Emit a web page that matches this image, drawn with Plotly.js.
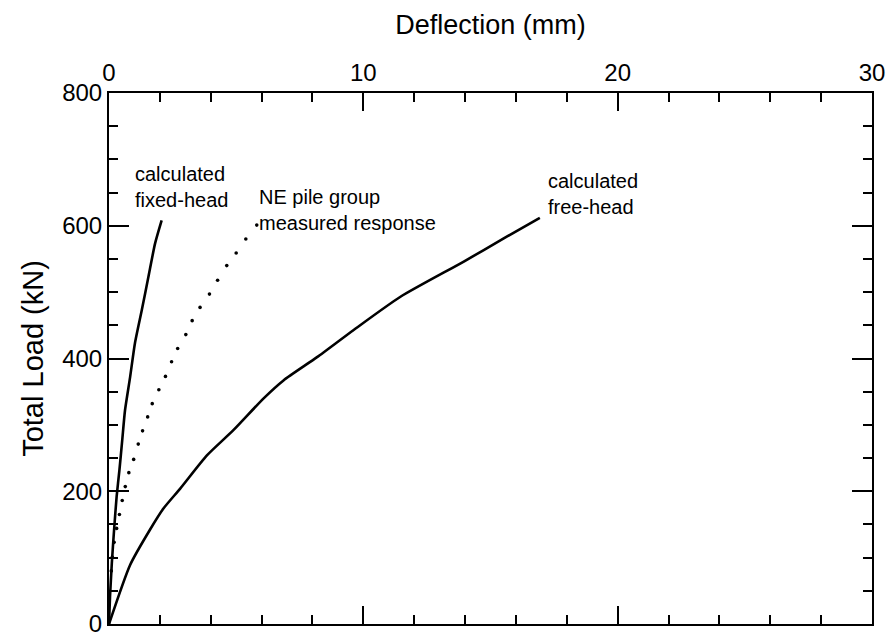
<!DOCTYPE html>
<html>
<head>
<meta charset="utf-8">
<script src="https://cdn.plot.ly/plotly-3.0.1.min.js"></script>
<style>html,body{margin:0;padding:0;background:#fff;}#chart{width:891px;height:642px;}</style>
</head>
<body>
<div id="chart"></div>
<script>
// Calculated fixed-head response (deflection mm, load kN)
const fixedX = [0, 0.04, 0.11, 0.20, 0.30, 0.41, 0.52, 0.63, 0.83, 1.02, 1.29, 1.55, 1.81, 2.07];
const fixedY = [0, 41, 91, 142, 192, 232, 277, 322, 372, 423, 473, 523, 573, 608];

// NE pile group measured response
const measX = [0.09, 0.13, 0.20, 0.30, 0.41, 0.52, 0.64, 0.78, 0.97, 1.15, 1.32, 1.52, 1.70, 1.96, 2.22, 2.46, 2.70, 3.02, 3.27, 3.58, 3.95, 4.27, 4.63, 5.00, 5.38, 5.81];
const measY = [80, 101, 123, 144, 165, 186, 207, 228, 248, 271, 291, 312, 332, 353, 373, 395, 415, 436, 457, 477, 497, 518, 540, 559, 580, 601];

// Calculated free-head response
const freeX = [0, 0.83, 1.61, 2.14, 2.80, 3.85, 4.89, 6.08, 6.86, 8.18, 9.62, 11.46, 13.95, 15.52, 16.94];
const freeY = [0, 89, 142, 174, 204, 254, 292, 340, 367, 402, 443, 493, 546, 581, 612];

const xTicks = [0, 10, 20, 30];
const yTicks = [0, 200, 400, 600, 800];

const labels = [
  {text: 'calculated<br>fixed-head', x: 0.94, y: 659},
  {text: 'NE pile group<br>measured response', x: 5.83, y: 623},
  {text: 'calculated<br>free-head', x: 17.2, y: 648}
];

const FONT = 'Liberation Sans, Arial, Helvetica, sans-serif';

const traces = [
  {x: fixedX, y: fixedY, mode: 'lines', line: {color: '#000', width: 2.6, shape: 'spline', smoothing: 0.6}, hoverinfo: 'skip'},
  {x: measX, y: measY, mode: 'markers', marker: {color: '#000', size: 3.6}, hoverinfo: 'skip'},
  {x: freeX, y: freeY, mode: 'lines', line: {color: '#000', width: 2.6, shape: 'spline', smoothing: 0.6}, hoverinfo: 'skip'}
];

const layout = {
  width: 891, height: 642,
  paper_bgcolor: '#fff', plot_bgcolor: '#fff',
  showlegend: false,
  margin: {l: 109, r: 19, t: 93, b: 18, pad: 0},
  font: {family: FONT, color: '#000'},
  xaxis: {
    range: [0, 30], side: 'top',
    tickmode: 'array', tickvals: xTicks, ticktext: xTicks.map(String),
    ticks: 'inside', ticklen: 18, tickwidth: 2, tickcolor: '#000',
    minor: {dtick: 2, ticks: 'inside', ticklen: 9, tickwidth: 2, tickcolor: '#000', showgrid: false},
    showline: true, linecolor: '#000', linewidth: 2, mirror: 'allticks',
    showgrid: false, zeroline: false,
    tickfont: {size: 24, family: FONT, color: '#000'},
    title: {text: 'Deflection (mm)', font: {size: 27, family: FONT, color: '#000'}, standoff: 17}
  },
  yaxis: {
    range: [0, 800],
    tickmode: 'array', tickvals: yTicks, ticktext: yTicks.map(String),
    ticks: 'inside', ticklen: 20, tickwidth: 2, tickcolor: '#000',
    minor: {dtick: 50, ticks: 'inside', ticklen: 9, tickwidth: 2, tickcolor: '#000', showgrid: false},
    showline: true, linecolor: '#000', linewidth: 2, mirror: 'allticks',
    showgrid: false, zeroline: false,
    tickfont: {size: 24, family: FONT, color: '#000'},
    title: {text: 'Total Load (kN)', font: {size: 29, family: FONT, color: '#000'}, standoff: 10}
  },
  annotations: labels.map(l => ({
    text: l.text, x: l.x, y: l.y, xref: 'x', yref: 'y',
    xanchor: 'left', yanchor: 'middle', align: 'left', showarrow: false,
    font: {size: 20, family: FONT, color: '#000'}
  }))
};

Plotly.newPlot('chart', traces, layout, {staticPlot: true, displayModeBar: false});
</script>
</body>
</html>
